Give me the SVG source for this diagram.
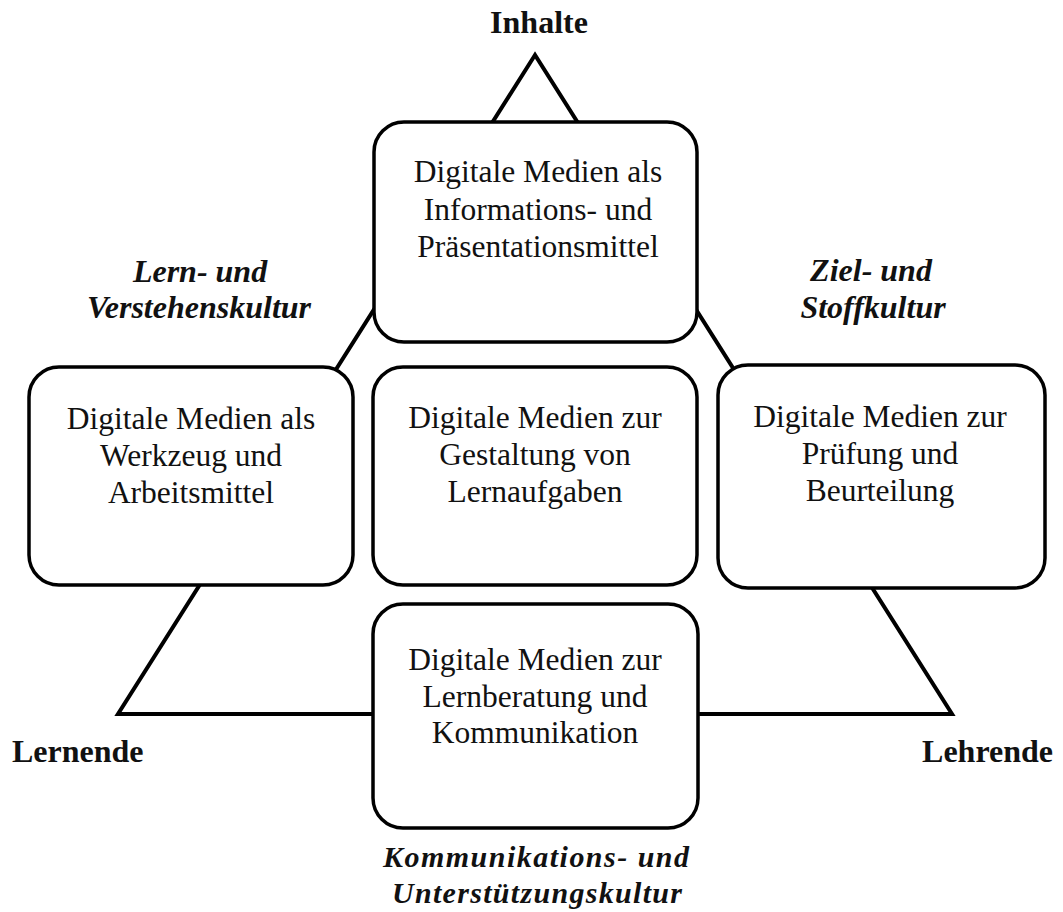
<svg xmlns="http://www.w3.org/2000/svg" width="1063" height="912" viewBox="0 0 1063 912">
  <style>
    .box { fill: #ffffff; stroke: #000000; stroke-width: 3.5; }
    .edge { fill: none; stroke: #000000; stroke-width: 4; stroke-linejoin: miter; }
    .txt { font-family: "Liberation Serif", "Times New Roman", serif; font-size: 31.5px; fill: #111111; text-anchor: middle; }
    .corner { font-family: "Liberation Serif", "Times New Roman", serif; font-size: 32px; font-weight: bold; fill: #111111; }
    .culture { font-family: "Liberation Serif", "Times New Roman", serif; font-size: 32px; font-weight: bold; font-style: italic; fill: #111111; text-anchor: middle; }
    .culture-sm { font-size: 30px; }
  </style>
  <rect width="1063" height="912" fill="#ffffff"/>

  <!-- triangle linking the three corners -->
  <g id="connectors">
    <polygon class="edge" points="535,55 118,714 952,714"/>
  </g>

  <!-- corner labels -->
  <g id="corner-inhalte"><text class="corner" x="539" y="33" text-anchor="middle">Inhalte</text></g>
  <g id="corner-lernende"><text class="corner" x="12" y="762">Lernende</text></g>
  <g id="corner-lehrende"><text class="corner" x="1053" y="762" text-anchor="end">Lehrende</text></g>

  <!-- culture labels along the edges -->
  <g id="culture-lern">
    <text class="culture" x="200" y="282">Lern- und</text>
    <text class="culture" x="199" y="318">Verstehenskultur</text>
  </g>
  <g id="culture-ziel">
    <text class="culture" x="871" y="281">Ziel- und</text>
    <text class="culture" x="873" y="318">Stoffkultur</text>
  </g>
  <g id="culture-kommunikation">
    <text class="culture culture-sm" x="536" y="867" textLength="306">Kommunikations- und</text>
    <text class="culture culture-sm" x="537" y="903" textLength="290">Unterstützungskultur</text>
  </g>

  <!-- media boxes -->
  <g id="box-information">
    <rect class="box" x="374" y="122" width="323" height="220" rx="30"/>
    <text class="txt" x="538" y="182">Digitale Medien als</text>
    <text class="txt" x="538" y="220">Informations- und</text>
    <text class="txt" x="538" y="257">Präsentationsmittel</text>
  </g>
  <g id="box-werkzeug">
    <rect class="box" x="29" y="367" width="324" height="218" rx="30"/>
    <text class="txt" x="191" y="429">Digitale Medien als</text>
    <text class="txt" x="191" y="466">Werkzeug und</text>
    <text class="txt" x="191" y="503">Arbeitsmittel</text>
  </g>
  <g id="box-lernaufgaben">
    <rect class="box" x="373" y="367" width="324" height="218" rx="30"/>
    <text class="txt" x="535" y="428">Digitale Medien zur</text>
    <text class="txt" x="535" y="465">Gestaltung von</text>
    <text class="txt" x="535" y="502">Lernaufgaben</text>
  </g>
  <g id="box-pruefung">
    <rect class="box" x="718" y="365" width="327" height="223" rx="30"/>
    <text class="txt" x="880" y="427">Digitale Medien zur</text>
    <text class="txt" x="880" y="464">Prüfung und</text>
    <text class="txt" x="880" y="501">Beurteilung</text>
  </g>
  <g id="box-lernberatung">
    <rect class="box" x="373" y="604" width="325" height="224" rx="30"/>
    <text class="txt" x="535" y="670">Digitale Medien zur</text>
    <text class="txt" x="535" y="707">Lernberatung und</text>
    <text class="txt" x="535" y="743">Kommunikation</text>
  </g>
</svg>
